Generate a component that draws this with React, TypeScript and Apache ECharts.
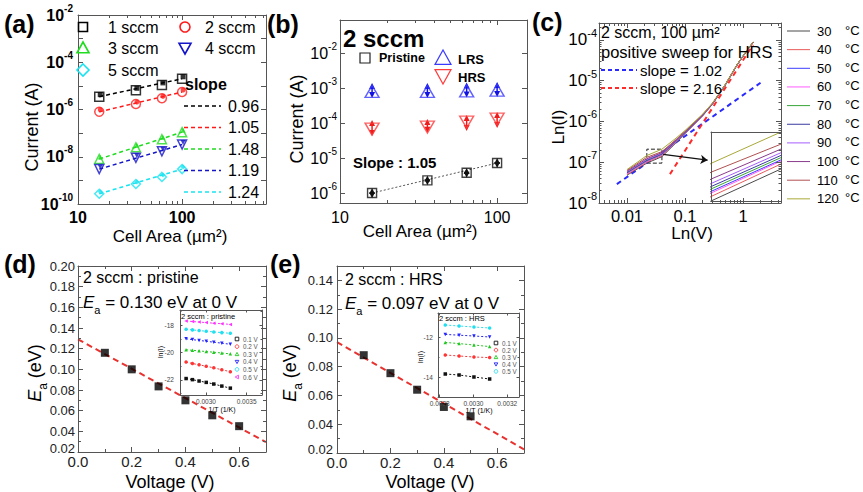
import React, { useEffect, useRef } from 'react';
import * as echarts from 'echarts';

const FONT = '"Liberation Sans", Arial, Helvetica, sans-serif';
const AX = '#555555';

/* ---------------- (a) current vs cell area, 1-5 sccm ---------------- */
const areaA = [16, 36, 64, 100];
const sccmNames = ['1 sccm', '2 sccm', '3 sccm', '4 sccm', '5 sccm'];
const currentA1 = [3.5e-6, 6.5e-6, 1.1e-5, 2.0e-5];
const currentA2 = [8.0e-7, 1.7e-6, 3.0e-6, 5.5e-6];
const currentA3 = [8.0e-9, 2.5e-8, 5.5e-8, 1.1e-7];
const currentA4 = [3.0e-9, 9.0e-9, 1.7e-8, 3.3e-8];
const currentA5 = [2.7e-10, 7.0e-10, 1.4e-9, 3.0e-9];
const slopeTextA = ['0.96', '1.05', '1.48', '1.19', '1.24'];
const colorsA = ['#000000', '#ff1a1a', '#1fdc1f', '#1414c8', '#1ae3f0'];
const yExpLabelsA = [-2, -4, -6, -8, -10];
const xLabelsA = ['10', '100'];

/* ---------------- (b) 2 sccm pristine / LRS / HRS ---------------- */
const areaB = [16, 36, 64, 100];
const pristineI = [1.0e-6, 2.3e-6, 3.8e-6, 7.2e-6];
const pristineLow = [0.87e-6, 2.05e-6, 3.35e-6, 6.3e-6];
const pristineHigh = [1.15e-6, 2.6e-6, 4.3e-6, 8.2e-6];
const lrsI = [8.0e-4, 8.0e-4, 8.3e-4, 8.7e-4];
const lrsLow = [6.3e-4, 6.3e-4, 6.5e-4, 6.8e-4];
const lrsHigh = [1.15e-3, 1.15e-3, 1.18e-3, 1.22e-3];
const hrsI = [6.7e-5, 7.7e-5, 1.07e-4, 1.3e-4];
const hrsLow = [5.2e-5, 6.4e-5, 7.2e-5, 8.8e-5];
const hrsHigh = [1.0e-4, 1.07e-4, 1.4e-4, 1.7e-4];
const yExpLabelsB = [-6, -5, -4, -3, -2, -1];
const xLabelsB = ['10', '100'];

/* ---------------- (c) I-V at temperatures ---------------- */
const voltC = [0.01, 0.022, 0.04, 0.07, 0.1, 0.2, 0.3, 0.5, 0.8, 1.2, 1.5];
const tempLabels = ['30', '40', '50', '60', '70', '80', '90', '100', '110', '120'];
const tempColors = ['#4a4a4a', '#e85a5a', '#3c3cff', '#ff5cff', '#3aa53a', '#3a3aa0', '#a65cff', '#8a3c8a', '#b05050', '#a8a838'];
const iT30 = [4.8e-8, 9.5e-8, 1.37e-7, 3.0e-7, 5.0e-7, 1.35e-6, 2.7e-6, 8.0e-6, 2.5e-5, 5.8e-5, 8.8e-5];
const iT40 = [5.0e-8, 1.0e-7, 1.45e-7, 3.1e-7, 5.1e-7, 1.37e-6, 2.72e-6, 8.05e-6, 2.51e-5, 5.8e-5, 8.8e-5];
const iT50 = [5.3e-8, 1.06e-7, 1.52e-7, 3.2e-7, 5.2e-7, 1.39e-6, 2.74e-6, 8.1e-6, 2.52e-5, 5.82e-5, 8.82e-5];
const iT60 = [5.2e-8, 1.04e-7, 1.5e-7, 3.15e-7, 5.15e-7, 1.38e-6, 2.73e-6, 8.1e-6, 2.52e-5, 5.82e-5, 8.82e-5];
const iT70 = [5.5e-8, 1.09e-7, 1.56e-7, 3.25e-7, 5.3e-7, 1.4e-6, 2.76e-6, 8.15e-6, 2.53e-5, 5.85e-5, 8.85e-5];
const iT80 = [5.6e-8, 1.12e-7, 1.6e-7, 3.3e-7, 5.35e-7, 1.41e-6, 2.78e-6, 8.2e-6, 2.54e-5, 5.85e-5, 8.85e-5];
const iT90 = [5.8e-8, 1.16e-7, 1.65e-7, 3.4e-7, 5.45e-7, 1.43e-6, 2.8e-6, 8.2e-6, 2.55e-5, 5.9e-5, 8.9e-5];
const iT100 = [6.0e-8, 1.22e-7, 1.72e-7, 3.5e-7, 5.6e-7, 1.45e-6, 2.82e-6, 8.25e-6, 2.55e-5, 5.9e-5, 8.9e-5];
const iT110 = [6.3e-8, 1.32e-7, 1.82e-7, 3.6e-7, 5.7e-7, 1.47e-6, 2.84e-6, 8.3e-6, 2.56e-5, 5.9e-5, 8.9e-5];
const iT120 = [6.6e-8, 1.46e-7, 2.09e-7, 3.9e-7, 6.0e-7, 1.5e-6, 2.87e-6, 8.3e-6, 2.57e-5, 5.95e-5, 9.0e-5];
const fitBlueV = [0.0067, 2.0];
const fitBlueI = [2.9e-8, 8.9e-6];
const fitRedV = [0.055, 1.48];
const fitRedI = [5.1e-8, 7.6e-5];
const zoomBoxV = [0.022, 0.04];
const zoomBoxI = [9.5e-8, 2.09e-7];
const arrowV = [0.042, 0.245];
const arrowI = [1.55e-7, 1.12e-7];
const yExpLabelsC = [-8, -7, -6, -5, -4];
const xLabelsC = ['0.01', '0.1', '1'];

/* ---------------- (d) Ea pristine ---------------- */
const voltD = [0.1, 0.2, 0.3, 0.4, 0.5, 0.6];
const eaPristine = [0.116, 0.1, 0.0835, 0.07, 0.0555, 0.045];
const fitV = [0, 0.7];
const fitPristine = [0.129, 0.0295];
const yTicksD = [0.02, 0.04, 0.06, 0.08, 0.1, 0.12, 0.14, 0.16, 0.18, 0.2];
const yMinorD = [0.03, 0.05, 0.07, 0.09, 0.11, 0.13, 0.15, 0.17, 0.19];
const xTicksDE = [0, 0.2, 0.4, 0.6];
const xMinorDE = [0.1, 0.3, 0.5, 0.7];
const invTempD = [0.002755, 0.002833, 0.002915, 0.003003, 0.003096, 0.003195, 0.0033];
const lnID01 = [-21.9, -21.98, -22.08, -22.18, -22.3, -22.45, -22.6];
const lnID02 = [-20.7, -20.8, -20.9, -21.0, -21.12, -21.26, -21.4];
const lnID03 = [-19.8, -19.84, -19.88, -19.93, -19.98, -20.04, -20.1];
const lnID04 = [-19.0, -19.06, -19.12, -19.18, -19.25, -19.32, -19.4];
const lnID05 = [-18.3, -18.35, -18.4, -18.45, -18.5, -18.55, -18.6];
const lnID06 = [-17.7, -17.74, -17.78, -17.82, -17.86, -17.9, -17.95];
const biasLabelsD = ['0.1 V', '0.2 V', '0.3 V', '0.4 V', '0.5 V', '0.6 V'];
const xTicksDi = [0.003, 0.0035];
const yTicksDi = [-22, -20, -18];
const yMinorDi = [-23, -21, -19, -17];

/* ---------------- (e) Ea HRS ---------------- */
const voltE = [0.1, 0.2, 0.3, 0.4, 0.5];
const eaHRS = [0.088, 0.0755, 0.064, 0.052, 0.0455];
const fitHRS = [0.097, 0.0225];
const yTicksE = [0.02, 0.04, 0.06, 0.08, 0.1, 0.12, 0.14];
const yMinorE = [0.03, 0.05, 0.07, 0.09, 0.11, 0.13];
const invTempE = [0.002833, 0.002915, 0.003003, 0.003096];
const lnIE01 = [-13.85, -13.9, -14.0, -14.1];
const lnIE02 = [-12.9, -12.95, -13.0, -13.03];
const lnIE03 = [-12.27, -12.33, -12.4, -12.48];
const lnIE04 = [-11.87, -11.91, -11.95, -12.0];
const lnIE05 = [-11.4, -11.45, -11.5, -11.55];
const biasLabelsE = ['0.1 V', '0.2 V', '0.3 V', '0.4 V', '0.5 V'];
const xTicksEi = [0.0028, 0.003, 0.0032];
const yTicksEi = [-14, -12];
const yMinorEi = [-15, -13, -11];

const insetColors = ['#111111', '#ff3535', '#22c822', '#2424ff', '#22dff0', '#ff35ff'];
const insetSymbols = ['rect', 'circle', 'triangle', 'triangle', 'circle', 'triangle'];
const insetRot = [0, 0, 0, 180, 0, 90];

/* ---------------- helpers ---------------- */
const isPow10 = (v: number) => {
  const l = Math.log10(v);
  const e = Math.round(l);
  return Math.abs(l - e) < 1e-6 ? e : null;
};
const powFmt = (exps: number[]) => (v: number) => {
  const e = isPow10(v);
  if (e === null || exps.indexOf(e) < 0) return '';
  return `{b|10}{s|${e}}`;
};
const decFmt = (labels: string[]) => (v: number) => {
  const e = isPow10(v);
  if (e === null) return '';
  const s = e >= 0 ? String(Math.round(Math.pow(10, e))) : Math.pow(10, e).toFixed(-e);
  return labels.indexOf(s) >= 0 ? s : '';
};
const powRich = (fs: number, bold: boolean) => ({
  b: { fontSize: fs, fontWeight: bold ? 'bold' : 'normal', fontFamily: FONT, color: '#000', lineHeight: fs + 8 },
  s: { fontSize: Math.round(fs * 0.64), fontWeight: bold ? 'bold' : 'normal', fontFamily: FONT, color: '#000', lineHeight: Math.round(fs * 0.64), verticalAlign: 'top' },
});
const logMinors = (e0: number, e1: number, lo: number, hi: number) => {
  const out: number[] = [];
  for (let e = e0; e <= e1; e++) for (let m = 2; m <= 9; m++) {
    const v = m * Math.pow(10, e);
    if (v > lo && v < hi) out.push(v);
  }
  return out;
};
// value-axis label that lifts the lowest label a little off the corner
const eaYFmt = (minVal: number) => (v: number) => (Math.abs(v - minVal) < 1e-9 ? `{m|${v.toFixed(2)}}` : v.toFixed(2));
const eaYRich = { m: { fontSize: 13, fontFamily: FONT, color: '#222', padding: [0, 0, 8, 0] } };

function buildOption() {
  const grid: any[] = [];
  const xAxis: any[] = [];
  const yAxis: any[] = [];
  const series: any[] = [];
  const graphic: any[] = [];

  const addGrid = (left: number, top: number, width: number, height: number, bg = false) => {
    grid.push({ left, top, width, height, containLabel: false, outerBoundsMode: 'none', show: bg, backgroundColor: '#ffffff', borderWidth: 0 });
    return grid.length - 1;
  };

  const addFrame = (gi: number, xc: any, yc: any) => {
    const res: any = {};
    (['x', 'y'] as const).forEach((dim) => {
      const c = dim === 'x' ? xc : yc;
      const list = dim === 'x' ? xAxis : yAxis;
      const sides = dim === 'x' ? ['bottom', 'top'] : ['left', 'right'];
      sides.forEach((pos, si) => {
        const ax: any = {
          gridIndex: gi, type: c.type, min: c.min, max: c.max, position: pos,
          axisLine: { show: true, onZero: false, lineStyle: { color: AX, width: 1 } },
          axisTick: { show: !c.noTicks, inside: true, length: c.tickLen ?? 5, lineStyle: { color: AX, width: 1 } },
          axisLabel: si === 0 && c.label ? { show: true, ...c.label } : { show: false },
          splitLine: { show: false },
          minorTick: { show: false },
          silent: true, z: 5,
        };
        if (c.type === 'log') ax.logBase = 10;
        if (c.majorValues) ax.axisTick.customValues = c.majorValues;
        if (si === 0 && c.labelValues) ax.axisLabel.customValues = c.labelValues;
        list.push(ax);
        if (si === 0) res[dim] = list.length - 1;
        if (c.minorValues && !c.noTicks) {
          const isLog = c.type === 'log';
          list.push({
            gridIndex: gi, type: 'value', position: pos,
            min: isLog ? Math.log10(c.min) : c.min, max: isLog ? Math.log10(c.max) : c.max,
            axisLine: { show: false, onZero: false }, axisLabel: { show: false }, splitLine: { show: false },
            axisTick: { show: true, inside: true, length: c.minorLen ?? 3, customValues: isLog ? c.minorValues.map((v: number) => Math.log10(v)) : c.minorValues, lineStyle: { color: AX, width: 1 } },
            silent: true, z: 5,
          });
        }
      });
    });
    return res;
  };

  const txt = (x: number, y: number, text: string, o: any = {}) => ({
    type: 'text', x, y, rotation: o.rot || 0, z: 100, silent: true,
    style: {
      text, fill: o.color || '#000',
      font: `${o.italic ? 'italic ' : ''}${o.bold ? 'bold ' : ''}${o.size || 16}px ${FONT}`,
      align: o.align || 'left', verticalAlign: o.va || 'middle', rich: o.rich,
    },
  });
  const eaRich = (size: number) => ({
    i: { fontSize: size, fontStyle: 'italic', fontFamily: FONT, fill: '#000', lineHeight: size + 3 },
    s: { fontSize: Math.round(size * 0.66), fontFamily: FONT, fill: '#000', lineHeight: Math.round(size * 0.66), verticalAlign: 'bottom', padding: [0, 0, -3, 0] },
    n: { fontSize: size, fontFamily: FONT, fill: '#000', lineHeight: size + 3 },
  });
  const sym = (kind: string, cx: number, cy: number, s: number, color: string, filled = false, lw = 1.4) => {
    const style = filled ? { fill: color, stroke: color, lineWidth: lw } : { fill: 'none', stroke: color, lineWidth: lw };
    const h = s / 2;
    if (kind === 'rect') return { type: 'rect', z: 100, shape: { x: cx - h, y: cy - h, width: s, height: s }, style };
    if (kind === 'circle') return { type: 'circle', z: 100, shape: { cx, cy, r: h }, style };
    if (kind === 'up') return { type: 'polygon', z: 100, shape: { points: [[cx - h, cy + h * 0.8], [cx + h, cy + h * 0.8], [cx, cy - h]] }, style };
    if (kind === 'down') return { type: 'polygon', z: 100, shape: { points: [[cx - h, cy - h * 0.8], [cx + h, cy - h * 0.8], [cx, cy + h]] }, style };
    if (kind === 'left') return { type: 'polygon', z: 100, shape: { points: [[cx + h * 0.8, cy - h], [cx + h * 0.8, cy + h], [cx - h, cy]] }, style };
    return { type: 'polygon', z: 100, shape: { points: [[cx, cy - h], [cx + h, cy], [cx, cy + h], [cx - h, cy]] }, style };
  };
  const hline = (x1: number, x2: number, y: number, color: string, dash?: number[], lw = 1.5) => ({
    type: 'line', z: 100, silent: true, shape: { x1, y1: y, x2, y2: y }, style: { stroke: color, lineWidth: lw, lineDash: dash },
  });

  /* ======== (a) ======== */
  const gA = addGrid(78, 15, 188, 189);
  const fa = addFrame(gA,
    { type: 'log', min: 10, max: 640, minorValues: logMinors(1, 2, 10, 640), label: { fontSize: 16, fontWeight: 'bold', color: '#000', fontFamily: FONT, margin: 5, formatter: decFmt(xLabelsA), showMaxLabel: false, showMinLabel: true } },
    { type: 'log', min: 1e-10, max: 1e-2, label: { margin: 5, formatter: powFmt(yExpLabelsA), rich: powRich(16, true) } });
  const currentsA = [currentA1, currentA2, currentA3, currentA4, currentA5];
  const symA = ['rect', 'circle', 'triangle', 'triangle', 'diamond'];
  const rotA = [0, 0, 0, 180, 0];
  currentsA.forEach((cur, k) => {
    const c = colorsA[k];
    const pts = areaA.map((x, i) => [x, cur[i]]);
    series.push({ type: 'line', xAxisIndex: fa.x, yAxisIndex: fa.y, data: [pts[0], pts[pts.length - 1]], symbol: 'none', lineStyle: { color: c, width: 1.5, type: [4, 3] }, silent: true, z: 3 });
    series.push({ type: 'scatter', name: sccmNames[k], xAxisIndex: fa.x, yAxisIndex: fa.y, data: pts, symbol: symA[k], symbolRotate: rotA[k], symbolSize: 9, itemStyle: { color: 'rgba(255,255,255,0)', borderColor: c, borderWidth: 1.5 }, z: 4 });
    series.push({ type: 'scatter', xAxisIndex: fa.x, yAxisIndex: fa.y, data: pts, symbol: symA[k], symbolRotate: rotA[k], symbolSize: 5, symbolOffset: [1, -2], itemStyle: { color: c }, z: 5, silent: true });
  });
  graphic.push(txt(4, 24, '(a)', { bold: true, size: 25 }));
  const legA = [
    { k: 'rect', x: 83, y: 27, tx: 108 }, { k: 'circle', x: 185, y: 27, tx: 205 },
    { k: 'up', x: 83, y: 48, tx: 108 }, { k: 'down', x: 185, y: 48, tx: 205 },
    { k: 'diamond', x: 83, y: 70, tx: 108 },
  ];
  legA.forEach((l, k) => {
    graphic.push(sym(l.k, l.x, l.y, l.k === 'rect' ? 9 : l.k === 'circle' ? 10 : 12, colorsA[k], false, 1.6));
    graphic.push(txt(l.tx, l.y, sccmNames[k], { size: 16 }));
  });
  graphic.push(txt(185, 84, 'slope', { bold: true, size: 16 }));
  slopeTextA.forEach((s, k) => {
    const y = 106 + k * 21.5;
    graphic.push(hline(184, 221, y, colorsA[k], [4, 3], 1.5));
    graphic.push(txt(228, y, s, { size: 16 }));
  });
  graphic.push(txt(32, 127, 'Current (A)', { size: 18, rot: Math.PI / 2, align: 'center' }));
  graphic.push(txt(170, 236, 'Cell Area (\u00b5m\u00b2)', { size: 17, align: 'center' }));

  /* ======== (b) ======== */
  const gB = addGrid(340, 20, 187, 183);
  const fb = addFrame(gB,
    { type: 'log', min: 10, max: 155, minorValues: logMinors(1, 2, 10, 155), label: { fontSize: 16, color: '#000', fontFamily: FONT, margin: 6, formatter: decFmt(xLabelsB) } },
    { type: 'log', min: 5.2e-7, max: 0.088, label: { margin: 3, formatter: powFmt(yExpLabelsB), rich: powRich(16, false) } });
  series.push({ type: 'line', xAxisIndex: fb.x, yAxisIndex: fb.y, data: [[areaB[0], pristineI[0]], [areaB[3], pristineI[3]]], symbol: 'none', lineStyle: { color: '#555', width: 1, type: [2, 2] }, silent: true, z: 3 });
  const errSeries = (xs: number[], lo: number[], hi: number[], color: string) => ({
    type: 'custom', xAxisIndex: fb.x, yAxisIndex: fb.y, silent: true, z: 4,
    data: xs.map((x, i) => [x, lo[i], hi[i]]),
    encode: { x: 0, y: [1, 2] },
    renderItem: (params: any, api: any) => {
      const x = api.value(0);
      const a = api.coord([x, api.value(1)]);
      const b = api.coord([x, api.value(2)]);
      const s = 3;
      return {
        type: 'group', children: [
          { type: 'line', shape: { x1: a[0], y1: a[1], x2: b[0], y2: b[1] }, style: { stroke: color, lineWidth: 1.5 } },
          { type: 'polygon', shape: { points: [[b[0] - s, b[1] + s], [b[0] + s, b[1] + s], [b[0], b[1] - s]] }, style: { fill: color } },
          { type: 'polygon', shape: { points: [[a[0] - s, a[1] - s], [a[0] + s, a[1] - s], [a[0], a[1] + s]] }, style: { fill: color } },
        ],
      };
    },
  });
  series.push(errSeries(areaB, pristineLow, pristineHigh, '#111'));
  series.push(errSeries(areaB, lrsLow, lrsHigh, '#1414e0'));
  series.push(errSeries(areaB, hrsLow, hrsHigh, '#ee1c1c'));
  series.push({ type: 'scatter', name: 'Pristine', xAxisIndex: fb.x, yAxisIndex: fb.y, data: areaB.map((x, i) => [x, pristineI[i]]), symbol: 'rect', symbolSize: 9, itemStyle: { color: 'rgba(255,255,255,0)', borderColor: '#111', borderWidth: 1.4 }, z: 5 });
  series.push({ type: 'scatter', name: 'LRS', xAxisIndex: fb.x, yAxisIndex: fb.y, data: areaB.map((x, i) => [x, lrsI[i]]), symbol: 'triangle', symbolSize: [14, 12], itemStyle: { color: 'rgba(255,255,255,0)', borderColor: '#3a3aff', borderWidth: 1.4 }, z: 5 });
  series.push({ type: 'scatter', name: 'HRS', xAxisIndex: fb.x, yAxisIndex: fb.y, data: areaB.map((x, i) => [x, hrsI[i]]), symbol: 'triangle', symbolRotate: 180, symbolSize: [14, 12], itemStyle: { color: 'rgba(255,255,255,0)', borderColor: '#ff3a3a', borderWidth: 1.4 }, z: 5 });
  graphic.push(txt(267, 24, '(b)', { bold: true, size: 25 }));
  graphic.push(txt(343, 38, '2 sccm', { bold: true, size: 24 }));
  graphic.push(sym('rect', 365, 58, 10, '#222', false, 1.2));
  graphic.push(txt(379, 58, 'Pristine', { bold: true, size: 12.5 }));
  graphic.push(sym('up', 443, 58, 16, '#3a3aff', false, 1.2));
  graphic.push(txt(458, 59, 'LRS', { bold: true, size: 13 }));
  graphic.push(sym('down', 443, 76, 16, '#ff3a3a', false, 1.2));
  graphic.push(txt(458, 77, 'HRS', { bold: true, size: 13 }));
  graphic.push(txt(353, 162, 'Slope : 1.05', { bold: true, size: 15 }));
  graphic.push(txt(297, 119, 'Current (A)', { size: 18, rot: Math.PI / 2, align: 'center' }));
  graphic.push(txt(420, 231, 'Cell Area (\u00b5m\u00b2)', { size: 17, align: 'center' }));

  /* ======== (c) ======== */
  const gC = addGrid(599, 23, 182, 180);
  const fc = addFrame(gC,
    { type: 'log', min: 0.0033, max: 4.5, minorValues: logMinors(-3, 0, 0.0033, 4.5), label: { fontSize: 16.5, color: '#000', fontFamily: FONT, margin: 4, formatter: decFmt(xLabelsC) } },
    { type: 'log', min: 1e-8, max: 2.6e-4, minorValues: logMinors(-8, -4, 1e-8, 2.6e-4), minorLen: 2.5, label: { margin: 2, formatter: powFmt(yExpLabelsC), rich: powRich(17, false) } });
  const gCi = addGrid(711, 132, 70, 69, true);
  const fci = addFrame(gCi,
    { type: 'log', min: zoomBoxV[0], max: zoomBoxV[1], noTicks: true },
    { type: 'log', min: zoomBoxI[0], max: zoomBoxI[1], noTicks: true });
  series.push({
    type: 'line', xAxisIndex: fc.x, yAxisIndex: fc.y, data: fitBlueV.map((v, i) => [v, fitBlueI[i]]), symbol: 'none',
    lineStyle: { color: '#2a2aff', width: 2, type: [5, 4] }, silent: true, z: 2,
    markArea: { silent: true, label: { show: false }, itemStyle: { color: 'rgba(0,0,0,0)', borderColor: '#222', borderWidth: 1, borderType: 'dashed' }, data: [[{ coord: [zoomBoxV[0], zoomBoxI[0]] }, { coord: [zoomBoxV[1], zoomBoxI[1]] }]] },
    markLine: { silent: true, symbol: ['none', 'arrow'], symbolSize: 7, label: { show: false }, lineStyle: { color: '#111', width: 1.3, type: 'solid' }, data: [[{ coord: [arrowV[0], arrowI[0]] }, { coord: [arrowV[1], arrowI[1]] }]] },
  });
  series.push({ type: 'line', xAxisIndex: fc.x, yAxisIndex: fc.y, data: fitRedV.map((v, i) => [v, fitRedI[i]]), symbol: 'none', lineStyle: { color: '#ff2a2a', width: 2, type: [5, 4] }, silent: true, z: 2 });
  const tempCurrents = [iT30, iT40, iT50, iT60, iT70, iT80, iT90, iT100, iT110, iT120];
  tempCurrents.forEach((arr, k) => {
    const pts = voltC.map((v, i) => [v, arr[i]]);
    series.push({ type: 'line', name: tempLabels[k] + ' \u00b0C', xAxisIndex: fc.x, yAxisIndex: fc.y, data: pts, symbol: 'none', lineStyle: { color: tempColors[k], width: 1 }, z: 3 });
    series.push({ type: 'line', xAxisIndex: fci.x, yAxisIndex: fci.y, data: pts, symbol: 'none', clip: true, lineStyle: { color: tempColors[k], width: 1 }, z: 3, silent: true });
  });
  graphic.push(txt(532, 22, '(c)', { bold: true, size: 25 }));
  graphic.push(txt(601, 32, '2 sccm, 100 \u00b5m\u00b2', { size: 16 }));
  graphic.push(txt(601, 52, 'positive sweep for HRS', { size: 16.5 }));
  graphic.push(hline(601, 637, 70, '#2a2aff', [4, 3], 2));
  graphic.push(txt(640, 70, 'slope = 1.02', { size: 15 }));
  graphic.push(hline(601, 637, 88, '#ff2a2a', [4, 3], 2));
  graphic.push(txt(640, 88, 'slope = 2.16', { size: 15 }));
  graphic.push(txt(558, 127, 'Ln(I)', { size: 17, rot: Math.PI / 2, align: 'center' }));
  graphic.push(txt(692, 233, 'Ln(V)', { size: 17, align: 'center' }));
  tempLabels.forEach((t, k) => {
    const y = 31 + k * 18.65;
    graphic.push(hline(787, 810, y, tempColors[k], undefined, 1));
    graphic.push(txt(817, y, t, { size: 13 }));
    graphic.push(txt(845, y - 1, '\u00b0C', { size: 13 }));
  });

  /* ======== (d) ======== */
  const gD = addGrid(78, 266, 188, 186);
  const fd = addFrame(gD,
    { type: 'value', min: 0, max: 0.7, majorValues: xTicksDE, minorValues: xMinorDE, labelValues: xTicksDE, label: { fontSize: 15, color: '#222', fontFamily: FONT, margin: 2, formatter: (v: number) => v.toFixed(1) } },
    { type: 'value', min: 0.02, max: 0.2, majorValues: yTicksD, minorValues: yMinorD, labelValues: yTicksD, label: { fontSize: 13, color: '#222', fontFamily: FONT, margin: 3, formatter: eaYFmt(yTicksD[0]), rich: eaYRich } });
  series.push({ type: 'line', xAxisIndex: fd.x, yAxisIndex: fd.y, data: fitV.map((v, i) => [v, fitPristine[i]]), symbol: 'none', lineStyle: { color: '#e8322f', width: 2, type: [6, 4] }, silent: true, z: 3 });
  series.push({ type: 'scatter', name: 'pristine', xAxisIndex: fd.x, yAxisIndex: fd.y, data: voltD.map((v, i) => [v, eaPristine[i]]), symbol: 'rect', symbolSize: 8, itemStyle: { color: '#000' }, z: 4 });
  const gDi = addGrid(180, 310, 82, 85, true);
  const fdi = addFrame(gDi,
    { type: 'value', min: 0.00268, max: 0.00369, majorValues: xTicksDi, labelValues: xTicksDi, tickLen: 2.5, label: { fontSize: 6.5, color: '#444', fontFamily: FONT, margin: 3, formatter: (v: number) => v.toFixed(4) } },
    { type: 'value', min: -23.1, max: -16.9, majorValues: yTicksDi, minorValues: yMinorDi, labelValues: yTicksDi, tickLen: 2.5, minorLen: 1.5, label: { fontSize: 6.5, color: '#444', fontFamily: FONT, margin: 6, formatter: (v: number) => String(Math.round(v)) } });
  [lnID01, lnID02, lnID03, lnID04, lnID05, lnID06].forEach((arr, k) => {
    series.push({ type: 'line', name: biasLabelsD[k], xAxisIndex: fdi.x, yAxisIndex: fdi.y, data: invTempD.map((x, i) => [x, arr[i]]), symbol: insetSymbols[k], symbolRotate: insetRot[k], symbolSize: 3.5, itemStyle: { color: insetColors[k] }, lineStyle: { color: insetColors[k], width: 1, type: [2, 2] }, z: 4 });
  });
  graphic.push(txt(4, 264, '(d)', { bold: true, size: 25 }));
  graphic.push(txt(83, 277, '2 sccm : pristine', { size: 16 }));
  graphic.push(txt(83, 302, '{i|E}{s|a}{n| = 0.130 eV at 0 V}', { size: 17, rich: eaRich(17) }));
  graphic.push(txt(35, 373, '{i|E}{s|a}{n| (eV)}', { size: 18, rot: Math.PI / 2, align: 'center', rich: eaRich(18) }));
  graphic.push(txt(170, 482, 'Voltage (V)', { size: 18, align: 'center' }));
  graphic.push(txt(181, 316, '2 sccm : pristine', { size: 7.5 }));
  graphic.push(txt(160, 352, 'ln(I)', { size: 7, rot: Math.PI / 2, align: 'center' }));
  graphic.push(txt(222, 409, '1/T (1/K)', { size: 7, align: 'center' }));
  const legKinds = ['rect', 'circle', 'up', 'down', 'circle', 'left'];
  biasLabelsD.forEach((b, k) => {
    const y = 339 + k * 7.6;
    graphic.push(sym(legKinds[k], 237, y, 3.6, insetColors[k], false, 0.9));
    graphic.push(txt(243, y, b, { size: 6.3, color: '#555' }));
  });

  /* ======== (e) ======== */
  const gE = addGrid(337, 266, 187, 187);
  const fe = addFrame(gE,
    { type: 'value', min: 0, max: 0.7, majorValues: xTicksDE, minorValues: xMinorDE, labelValues: xTicksDE, label: { fontSize: 15, color: '#222', fontFamily: FONT, margin: 2, formatter: (v: number) => v.toFixed(1) } },
    { type: 'value', min: 0.02, max: 0.15, majorValues: yTicksE, minorValues: yMinorE, labelValues: yTicksE, label: { fontSize: 13, color: '#222', fontFamily: FONT, margin: 4, formatter: eaYFmt(yTicksE[0]), rich: eaYRich } });
  series.push({ type: 'line', xAxisIndex: fe.x, yAxisIndex: fe.y, data: fitV.map((v, i) => [v, fitHRS[i]]), symbol: 'none', lineStyle: { color: '#e8322f', width: 2, type: [6, 4] }, silent: true, z: 3 });
  series.push({ type: 'scatter', name: 'HRS Ea', xAxisIndex: fe.x, yAxisIndex: fe.y, data: voltE.map((v, i) => [v, eaHRS[i]]), symbol: 'rect', symbolSize: 8, itemStyle: { color: '#000' }, z: 4 });
  const gEi = addGrid(438, 313, 81, 84, true);
  const fei = addFrame(gEi,
    { type: 'value', min: 0.00279, max: 0.00327, majorValues: xTicksEi, labelValues: xTicksEi, tickLen: 2.5, label: { fontSize: 6.5, color: '#444', fontFamily: FONT, margin: 3, formatter: (v: number) => v.toFixed(4) } },
    { type: 'value', min: -15, max: -10.8, majorValues: yTicksEi, minorValues: yMinorEi, labelValues: yTicksEi, tickLen: 2.5, minorLen: 1.5, label: { fontSize: 6.5, color: '#444', fontFamily: FONT, margin: 5, formatter: (v: number) => String(Math.round(v)) } });
  [lnIE01, lnIE02, lnIE03, lnIE04, lnIE05].forEach((arr, k) => {
    series.push({ type: 'line', name: 'HRS ' + biasLabelsE[k], xAxisIndex: fei.x, yAxisIndex: fei.y, data: invTempE.map((x, i) => [x, arr[i]]), symbol: insetSymbols[k], symbolRotate: insetRot[k], symbolSize: 3.5, itemStyle: { color: insetColors[k] }, lineStyle: { color: insetColors[k], width: 1, type: [2, 2] }, z: 4 });
  });
  graphic.push(txt(270, 264, '(e)', { bold: true, size: 25 }));
  graphic.push(txt(345, 279, '2 sccm : HRS', { size: 16 }));
  graphic.push(txt(345, 303, '{i|E}{s|a}{n| = 0.097 eV at 0 V}', { size: 17, rich: eaRich(17) }));
  graphic.push(txt(290, 373, '{i|E}{s|a}{n| (eV)}', { size: 18, rot: Math.PI / 2, align: 'center', rich: eaRich(18) }));
  graphic.push(txt(430, 482, 'Voltage (V)', { size: 18, align: 'center' }));
  graphic.push(txt(439, 318, '2 sccm : HRS', { size: 7.5 }));
  graphic.push(txt(420, 357, 'ln(I)', { size: 7, rot: Math.PI / 2, align: 'center' }));
  graphic.push(txt(479, 410, '1/T (1/K)', { size: 7, align: 'center' }));
  biasLabelsE.forEach((b, k) => {
    const y = 343 + k * 7.1;
    graphic.push(sym(legKinds[k], 496, y, 3.6, insetColors[k], false, 0.9));
    graphic.push(txt(502, y, b, { size: 6.3, color: '#555' }));
  });

  return {
    animation: false,
    backgroundColor: '#ffffff',
    textStyle: { fontFamily: FONT },
    grid, xAxis, yAxis, series,
    graphic: { elements: graphic },
  };
}

export default function App() {
  const ref = useRef<HTMLDivElement>(null);
  useEffect(() => {
    if (!ref.current) return;
    const chart = echarts.init(ref.current, null, { renderer: 'svg' });
    chart.setOption(buildOption() as any);
    return () => chart.dispose();
  }, []);
  return <div ref={ref} style={{ position: 'absolute', left: 0, top: 0, width: 863, height: 492, background: '#fff' }} />;
}
